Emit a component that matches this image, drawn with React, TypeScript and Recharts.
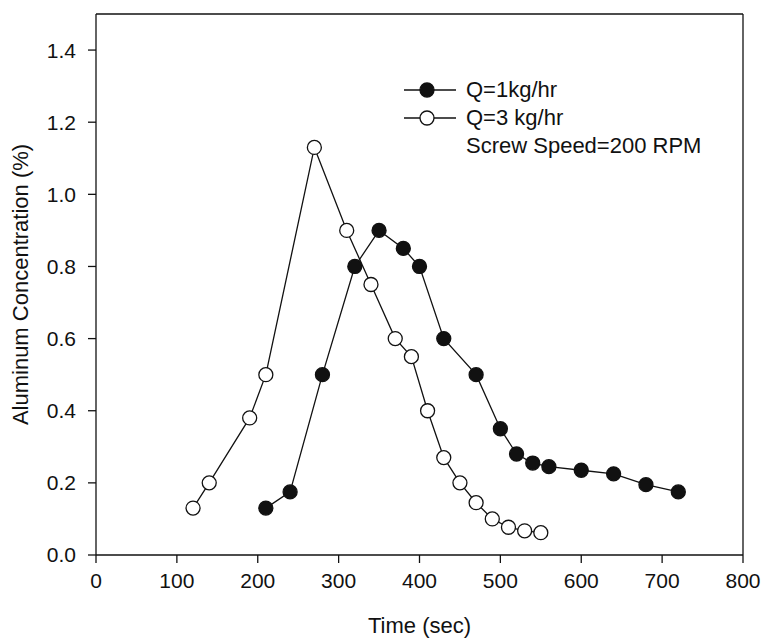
import { LineChart, Line, XAxis, YAxis, Legend, ReferenceLine } from 'recharts'

// Q = 1 kg/hr (filled circles)
const timeQ1 = [210, 240, 280, 320, 350, 380, 400, 430, 470, 500, 520, 540, 560, 600, 640, 680, 720]
const concQ1 = [0.13, 0.175, 0.5, 0.8, 0.9, 0.85, 0.8, 0.6, 0.5, 0.35, 0.28, 0.255, 0.245, 0.235, 0.225, 0.195, 0.175]

// Q = 3 kg/hr (open circles)
const timeQ3 = [120, 140, 190, 210, 270, 310, 340, 370, 390, 410, 430, 450, 470, 490, 510, 530, 550]
const concQ3 = [0.13, 0.2, 0.38, 0.5, 1.13, 0.9, 0.75, 0.6, 0.55, 0.4, 0.27, 0.2, 0.145, 0.1, 0.077, 0.067, 0.062]

const xTicks = [0, 100, 200, 300, 400, 500, 600, 700, 800]
const yTicks = [0, 0.2, 0.4, 0.6, 0.8, 1.0, 1.2, 1.4]
const seriesNames = ['Q=1kg/hr', 'Q=3 kg/hr']
const note = 'Screw Speed=200 RPM'

const q1 = timeQ1.map((x, i) => ({ x, y: concQ1[i] }))
const q3 = timeQ3.map((x, i) => ({ x, y: concQ3[i] }))

const INK = '#111'
const FONT = '"Liberation Sans", Arial, sans-serif'

function LegendBox() {
  const rows = [
    { name: seriesNames[0], fill: INK },
    { name: seriesNames[1], fill: '#fff' },
  ]
  return (
    <div style={{ fontFamily: FONT, fontSize: 22, color: INK, lineHeight: '28px' }}>
      {rows.map((r) => (
        <div key={r.name} style={{ display: 'flex', alignItems: 'center', height: 28 }}>
          <svg width={52} height={18} style={{ marginRight: 10 }}>
            <line x1={0} y1={9} x2={52} y2={9} stroke={INK} strokeWidth={1.3} />
            <circle cx={23} cy={9} r={7} fill={r.fill} stroke={INK} strokeWidth={1.3} />
          </svg>
          <span>{r.name}</span>
        </div>
      ))}
      <div style={{ marginLeft: 62, height: 28 }}>{note}</div>
    </div>
  )
}

export default function App() {
  return (
    <div style={{ position: 'absolute', left: 0, top: 0, background: '#fff' }}>
      <LineChart width={763} height={639} margin={{ top: 14, right: 20, left: 0, bottom: 0 }}>
        <XAxis
          type="number"
          dataKey="x"
          domain={[0, 800]}
          ticks={xTicks}
          height={84}
          tickSize={8}
          tickMargin={10}
          stroke={INK}
          strokeWidth={1.3}
          tick={{ fill: INK, fontSize: 21, fontFamily: FONT }}
          label={{ value: 'Time (sec)', position: 'insideBottom', offset: 6, fill: INK, fontSize: 22, fontFamily: FONT }}
        />
        <YAxis
          type="number"
          domain={[0, 1.5]}
          ticks={yTicks}
          width={96}
          tickSize={8}
          tickMargin={12}
          stroke={INK}
          strokeWidth={1.3}
          tickFormatter={(v: number) => v.toFixed(1)}
          tick={{ fill: INK, fontSize: 21, fontFamily: FONT }}
          label={{ value: 'Aluminum Concentration (%)', angle: -90, position: 'insideLeft', offset: 20, fill: INK, fontSize: 22, fontFamily: FONT, style: { textAnchor: 'middle' } }}
        />
        <ReferenceLine y={1.5} stroke={INK} strokeWidth={1.3} />
        <ReferenceLine x={800} stroke={INK} strokeWidth={1.3} />
        <Legend
          layout="vertical"
          align="center"
          verticalAlign="middle"
          content={() => <LegendBox />}
          wrapperStyle={{ left: 404, top: 76, width: 330 }}
        />
        <Line
          data={q1}
          dataKey="y"
          name={seriesNames[0]}
          stroke={INK}
          strokeWidth={1.3}
          dot={{ r: 7, fill: INK, stroke: INK, strokeWidth: 1.3 }}
          activeDot={false}
          isAnimationActive={false}
        />
        <Line
          data={q3}
          dataKey="y"
          name={seriesNames[1]}
          stroke={INK}
          strokeWidth={1.3}
          dot={{ r: 7, fill: '#fff', stroke: INK, strokeWidth: 1.3 }}
          activeDot={false}
          isAnimationActive={false}
        />
      </LineChart>
    </div>
  )
}
